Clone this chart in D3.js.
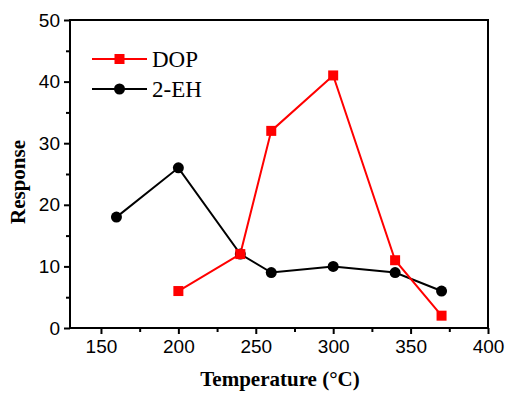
<!DOCTYPE html>
<html><head><meta charset="utf-8">
<script src="https://cdn.jsdelivr.net/npm/d3@7"></script>
<style>body{margin:0;background:#fff}</style>
</head><body>
<svg id="c" width="510" height="394"></svg>
<script>
const dopX = [200, 240, 260, 300, 340, 370];
const dopY = [6, 12, 32, 41, 11, 2];
const ehX = [160, 200, 240, 260, 300, 340, 370];
const ehY = [18, 26, 12, 9, 10, 9, 6];
const xTicks = [150, 200, 250, 300, 350, 400];
const yTicks = [0, 10, 20, 30, 40, 50];
const seriesNames = ["DOP", "2-EH"];

const svg = d3.select("#c");
const L = 70, R = 488, T = 20, B = 328;
const x = d3.scaleLinear().domain([130, 400]).range([L, R]);
const y = d3.scaleLinear().domain([0, 50]).range([B, T]);

// frame
svg.append("rect").attr("x", L).attr("y", T).attr("width", R - L).attr("height", B - T)
  .attr("fill", "none").attr("stroke", "#000").attr("stroke-width", 2);

const tickFont = "'Liberation Sans', Arial, sans-serif";
const serif = "'Liberation Serif', 'Times New Roman', serif";
// axes
const xa = svg.append("g").attr("transform", `translate(0,${B})`)
  .call(d3.axisBottom(x).tickValues(xTicks).tickSize(6).tickPadding(6).tickFormat(d3.format("d")));
const xm = svg.append("g").attr("transform", `translate(0,${B})`)
  .call(d3.axisBottom(x).tickValues([175, 225, 275, 325, 375]).tickSize(4).tickFormat(""));
const ya = svg.append("g").attr("transform", `translate(${L},0)`)
  .call(d3.axisLeft(y).tickValues(yTicks).tickSize(6).tickPadding(4).tickFormat(d3.format("d")));
const ym = svg.append("g").attr("transform", `translate(${L},0)`)
  .call(d3.axisLeft(y).tickValues([5, 15, 25, 35, 45]).tickSize(4).tickFormat(""));
[xa, xm, ya, ym].forEach(g => {
  g.select(".domain").remove();
  g.selectAll("line").attr("stroke", "#000").attr("stroke-width", 2);
  g.selectAll("text").attr("font-family", tickFont).attr("font-size", 19).attr("fill", "#000");
});

// axis titles
svg.append("text").attr("x", 280).attr("y", 386).attr("text-anchor", "middle")
  .attr("font-family", serif).attr("font-weight", "bold")
  .attr("font-size", 21).text("Temperature (°C)");
svg.append("text").attr("transform", `translate(25,182) rotate(-90)`).attr("text-anchor", "middle")
  .attr("font-family", serif).attr("font-weight", "bold")
  .attr("font-size", 21).text("Response");

const line = d3.line().x(d => x(d[0])).y(d => y(d[1]));
const dop = dopX.map((v, i) => [v, dopY[i]]);
const eh = ehX.map((v, i) => [v, ehY[i]]);

svg.append("path").datum(eh).attr("d", line).attr("fill", "none").attr("stroke", "#000").attr("stroke-width", 2);
svg.append("path").datum(dop).attr("d", line).attr("fill", "none").attr("stroke", "#ff0000").attr("stroke-width", 2);

svg.selectAll(".eh").data(eh).enter().append("circle")
  .attr("cx", d => x(d[0])).attr("cy", d => y(d[1])).attr("r", 5.5).attr("fill", "#000");
svg.selectAll(".dop").data(dop).enter().append("rect")
  .attr("x", d => x(d[0]) - 5).attr("y", d => y(d[1]) - 5).attr("width", 10).attr("height", 10).attr("fill", "#ff0000");

// legend
const leg = [{name: seriesNames[0], c: "#ff0000", y: 59, m: "sq"}, {name: seriesNames[1], c: "#000", y: 89, m: "ci"}];
leg.forEach(l => {
  svg.append("line").attr("x1", 92).attr("x2", 147).attr("y1", l.y).attr("y2", l.y).attr("stroke", l.c).attr("stroke-width", 2);
  if (l.m === "sq") svg.append("rect").attr("x", 114.5).attr("y", l.y - 5).attr("width", 10).attr("height", 10).attr("fill", l.c);
  else svg.append("circle").attr("cx", 119.5).attr("cy", l.y).attr("r", 5.5).attr("fill", l.c);
  svg.append("text").attr("x", 152).attr("y", l.y + 8).attr("font-family", serif)
    .attr("font-size", 23).text(l.name);
});
</script>
</body></html>
